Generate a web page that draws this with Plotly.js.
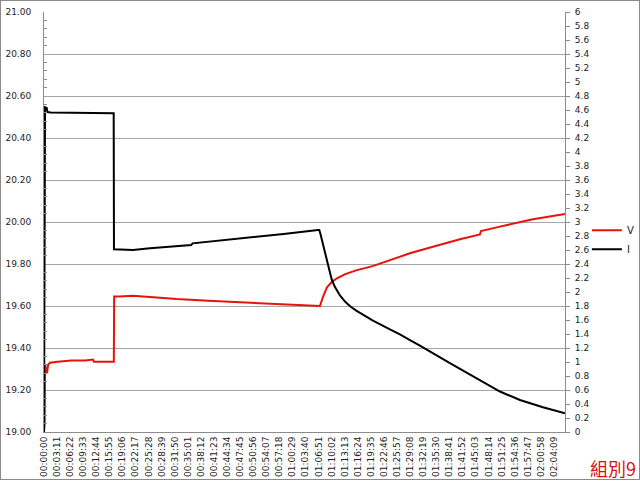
<!DOCTYPE html>
<html>
<head>
<meta charset="utf-8">
<script src="https://cdn.plot.ly/plotly-3.0.1.min.js"></script>
<style>
html,body{margin:0;padding:0;background:#fff;}
#wrap{position:relative;width:640px;height:481px;}
#chart{width:640px;height:481px;}
#frame{position:absolute;left:0;top:0;width:638px;height:478px;border:1px solid #8a8a8a;pointer-events:none;}
</style>
</head>
<body>
<div id="wrap"><div id="chart"></div><div id="frame"></div></div>
<script>
// Time labels on the category axis (one every 191 s)
const timeLabels = ["00:00:00","00:03:11","00:06:22","00:09:33","00:12:44","00:15:55","00:19:06","00:22:17","00:25:28","00:28:39","00:31:50","00:35:01","00:38:12","00:41:23","00:44:34","00:47:45","00:50:56","00:54:07","00:57:18","01:00:29","01:03:40","01:06:51","01:10:02","01:13:13","01:16:24","01:19:35","01:22:46","01:25:57","01:29:08","01:32:19","01:35:30","01:38:41","01:41:52","01:45:03","01:48:14","01:51:25","01:54:36","01:57:47","02:00:58","02:04:09"];
const labelStepSec = 191;

// Voltage series V (seconds, volts)
const vTime = [0,10,15,30,44,60,88,200,400,600,716,730,900,1008,1020,1025,1100,1300,1548,1938,2400,2906,3400,3885,4002,4031,4075,4104,4133,4206,4279,4400,4571,4800,5053,5199,5345,5681,6075,6368,6382,6660,7142,7609];
const vVals = [19.00,19.04,19.32,19.30,19.28,19.32,19.33,19.335,19.34,19.34,19.345,19.335,19.335,19.335,19.335,19.645,19.645,19.649,19.642,19.633,19.625,19.617,19.609,19.601,19.598,19.600,19.644,19.672,19.689,19.715,19.732,19.752,19.771,19.790,19.819,19.835,19.851,19.882,19.918,19.941,19.957,19.978,20.013,20.038];

// Current series I (seconds, amps)
const iTime = [0,5,15,40,50,100,300,600,1008,1018,1022,1300,1548,2150,2170,2906,3500,4002,4021,4040,4060,4080,4104,4140,4170,4202,4250,4323,4400,4480,4567,4700,4805,5053,5199,5345,5491,5929,6368,6660,6952,7288,7609];
const iVals = [0,4.62,4.64,4.63,4.57,4.565,4.56,4.557,4.553,4.552,2.61,2.60,2.624,2.67,2.695,2.767,2.83,2.886,2.886,2.82,2.743,2.65,2.557,2.42,2.29,2.18,2.07,1.95,1.86,1.79,1.73,1.645,1.59,1.465,1.396,1.314,1.235,0.985,0.743,0.578,0.457,0.353,0.267];

const seriesNames = ["V","I"];
const cornerText = "組別9";

const tickVals = timeLabels.map((_, k) => k * labelStepSec);
const font = {family: "DejaVu Sans, Verdana, sans-serif", size: 9, color: "#222"};

const data = [
  {x: vTime, y: vVals, name: seriesNames[0], type: "scatter", mode: "lines",
   line: {color: "#e8120c", width: 2}, yaxis: "y"},
  {x: iTime, y: iVals, name: seriesNames[1], type: "scatter", mode: "lines",
   line: {color: "#000000", width: 2}, yaxis: "y2"}
];

const layout = {
  width: 640, height: 481,
  margin: {l: 44, r: 75, t: 12, b: 49, pad: 0, autoexpand: false},
  paper_bgcolor: "#ffffff", plot_bgcolor: "#ffffff",
  font: font,
  showlegend: true,
  legend: {x: 1.042, y: 0.458, xanchor: "left", yanchor: "middle",
           font: {family: font.family, size: 10, color: "#222"},
           bgcolor: "rgba(0,0,0,0)", tracegroupgap: 0, itemwidth: 30},
  xaxis: {type: "linear", range: [0, 7610], tickmode: "array",
          tickvals: tickVals, ticktext: timeLabels, tickangle: -90,
          showgrid: false, zeroline: false, showline: true,
          linecolor: "#8c8c8c", linewidth: 1, ticks: "", tickfont: font},
  yaxis: {range: [19, 21], dtick: 0.2, tick0: 19, tickformat: ".2f",
          showgrid: true, gridcolor: "#a6a6a6", gridwidth: 1,
          zeroline: false, showline: true, linecolor: "#8c8c8c", linewidth: 1,
          ticks: "", tickfont: font, ticklabelstandoff: 10,
          minor: {dtick: 0.04, tick0: 19, ticks: "inside", ticklen: 3,
                  tickcolor: "#8c8c8c", showgrid: false}},
  yaxis2: {range: [0, 6], dtick: 0.2, tick0: 0, overlaying: "y", side: "right",
           showgrid: false, zeroline: false, showline: true,
           linecolor: "#8c8c8c", linewidth: 1, ticks: "outside", ticklen: 4,
           tickcolor: "#8c8c8c", tickfont: font, ticklabelstandoff: 3},
  annotations: [{text: cornerText, xref: "paper", yref: "paper",
                 x: 1.045, y: -0.085, xanchor: "left", yanchor: "middle",
                 showarrow: false,
                 font: {family: "Noto Sans CJK TC, serif", size: 18, color: "#d81010"}}]
};

Plotly.newPlot("chart", data, layout, {staticPlot: true, displayModeBar: false});
</script>
</body>
</html>
